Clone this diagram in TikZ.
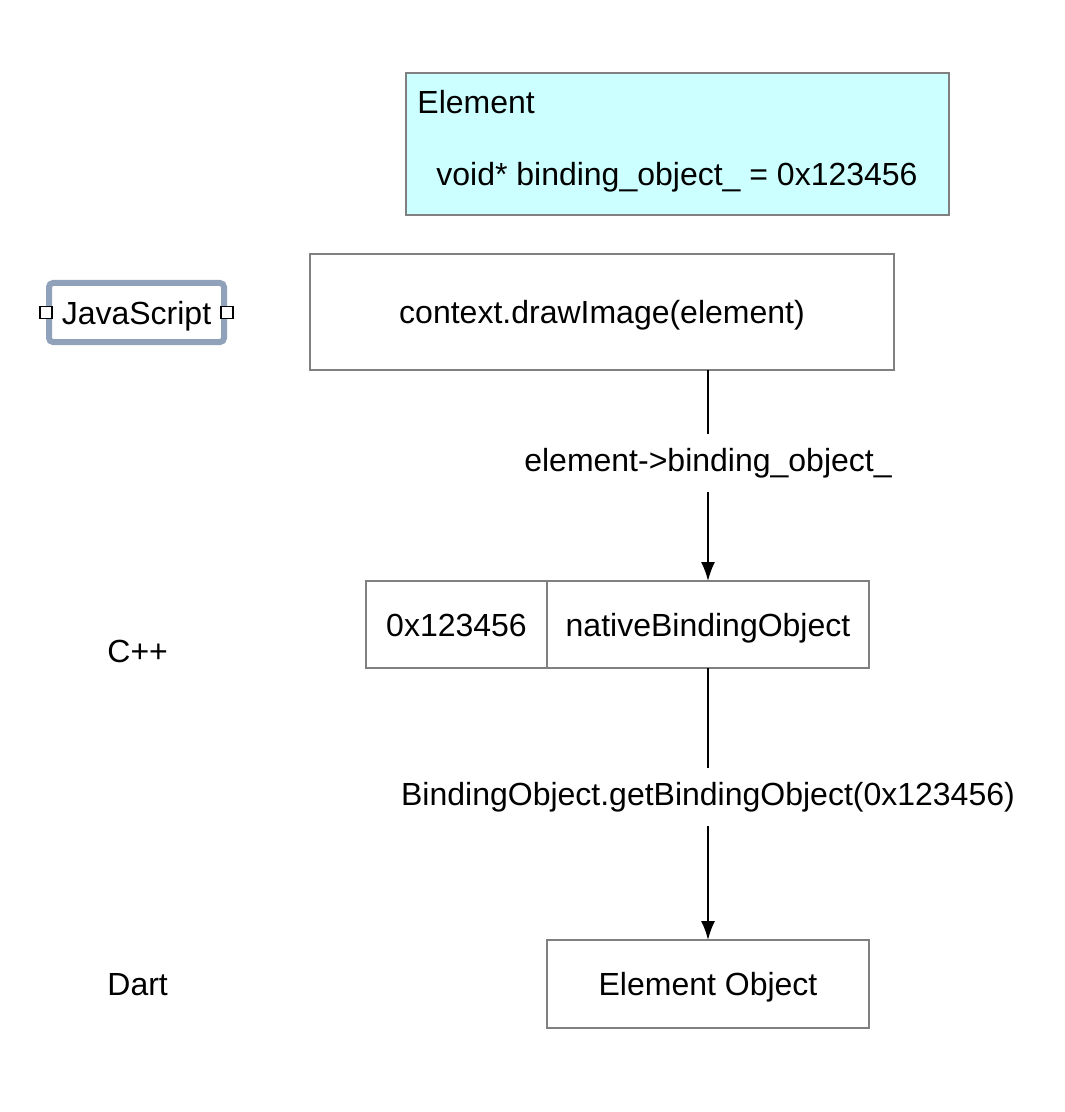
\documentclass[tikz,border=0pt]{standalone}
\usepackage{fontspec}
\setmainfont{Liberation Sans}
\usepackage{xcolor}
\definecolor{pale-cyan}{HTML}{CCFFFF}
\definecolor{box-gray}{HTML}{808080}
\definecolor{js-blue}{HTML}{8FA2BA}
\usetikzlibrary{positioning}
\usetikzlibrary{arrows.meta}
\tikzset{box/.style = {draw=box-gray, line width=0.6pt, align=center, text centered, inner sep=0pt, outer sep=0pt, text height=11.5pt, text depth=0pt}}
\tikzset{lane/.style = {anchor=west, inner sep=0pt}}
\tikzset{port/.style = {draw, fill=white, line width=0.6pt, minimum size=6pt, inner sep=0pt}}
\tikzset{arr/.style = {line width=0.9pt, -{Latex[length=9.5pt, width=7pt]}}}
\tikzset{tag/.style = {fill=white, inner xsep=2pt, inner ysep=7pt}}

\begin{document}
\begin{tikzpicture}[x=0.5pt, y=-0.5pt,
  node distance = 0pt,
  font=\fontsize{16}{19}\selectfont
]
\useasboundingbox (0,0) rectangle (1064,1112);

\node[box, fill=pale-cyan, minimum width=271.5pt, minimum height=71pt] (elem) at (677.5,144) {};
\node[anchor=west, inner sep=0pt] (elemtitle) at (417,102) {Element};
\node[inner sep=0pt] (elemfield) at (677,177) {void* binding\_object\_ = 0x123456};

\node[draw=js-blue, line width=3pt, rounded corners=2pt, minimum width=87.5pt, minimum height=29.5pt, inner sep=0pt, text height=11.5pt, text depth=0pt] (js) at (136.5,312.5) {JavaScript};
\node[port] (jsin) at (js.west) {};
\node[port] (jsout) at (js.east) {};

\node[box, minimum width=292pt, minimum height=58pt] (ctx) at (602,312) {context.drawImage(element)};

\node[box, minimum width=90.5pt, minimum height=43.5pt] (hex) at (456.5,624.5) {0x123456};
\node[box, minimum width=161pt, minimum height=43.5pt, right=of hex] (native) {nativeBindingObject};
\node[lane] (cpp) at (107,651) {C++};

\node[box, minimum width=161pt, minimum height=44pt] (dartobj) at (708,984) {Element Object};
\node[lane] (dart) at (107,985) {Dart};

\draw[arr] (ctx.south -| native.north) -- (native.north) node[tag, pos=0.44]{element->binding\_object\_};
\draw[arr] (native.south) -- (dartobj.north) node[tag, pos=0.474]{BindingObject.getBindingObject(0x123456)};

\end{tikzpicture}
\end{document}
